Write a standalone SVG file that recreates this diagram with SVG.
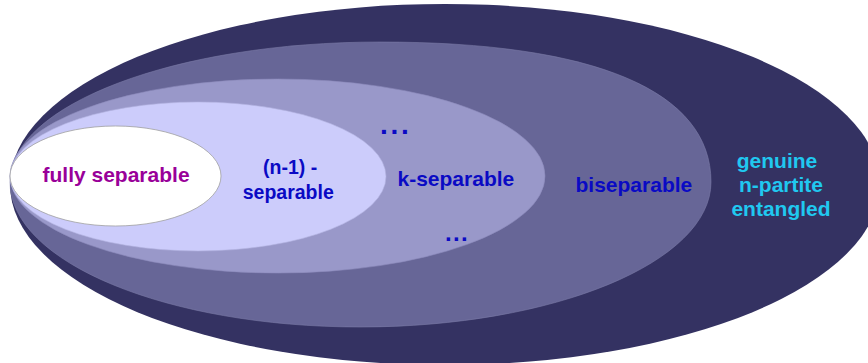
<svg xmlns="http://www.w3.org/2000/svg" width="868" height="363" viewBox="0 0 868 363">
  <style>
    .lbl { font-family: "Liberation Sans", Arial, sans-serif; font-weight: bold; }
    .blue { fill: #0a0ac4; }
    .cyan { fill: #20c8f0; }
    .dots { font-family: "Liberation Sans", Arial, sans-serif; font-weight: bold; fill: #0a0ac4; }
  </style>
  <rect width="868" height="363" fill="#ffffff"/>
  <g id="genuine">
    <ellipse cx="445" cy="184.5" rx="435" ry="180.5" fill="#343262"/>
    <text class="lbl cyan" x="777" y="168" font-size="21" text-anchor="middle">genuine</text>
    <text class="lbl cyan" x="781" y="192" font-size="21" text-anchor="middle">n-partite</text>
    <text class="lbl cyan" x="781" y="216" font-size="21" text-anchor="middle">entangled</text>
  </g>
  <g id="biseparable">
    <path d="M 10 182 C 10 104.7 175.6 42 380 42 C 595.2 42 711 91 711 182 C 711 262.1 553.9 327 360 327 C 166.7 327 10 262.1 10 182 Z" fill="#676697" stroke="#7a7aa6" stroke-width="0.6"/>
    <text class="lbl blue" x="575.5" y="192" font-size="21">biseparable</text>
  </g>
  <g id="k-separable">
    <ellipse cx="277.5" cy="176" rx="267.5" ry="97" fill="#9998c9" stroke="#8d8cbc" stroke-width="0.6"/>
    <text class="lbl blue" x="397.5" y="186" font-size="21">k-separable</text>
    <text class="dots" x="380" y="134" font-size="28" letter-spacing="2.7">...</text>
    <text class="dots" x="445" y="241" font-size="24" letter-spacing="1.3">...</text>
  </g>
  <g id="n-1-separable">
    <ellipse cx="198" cy="176.5" rx="188" ry="74.5" fill="#ccccfb" stroke="#b4b4e0" stroke-width="0.6"/>
    <text class="lbl blue" x="263" y="174.3" font-size="19.5">(n-1) -</text>
    <text class="lbl blue" x="242.7" y="199.3" font-size="19.5">separable</text>
  </g>
  <g id="fully-separable">
    <ellipse cx="115.5" cy="176" rx="105.5" ry="50" fill="#ffffff" stroke="#a0a0a0" stroke-width="0.8"/>
    <text class="lbl" x="42.5" y="182" font-size="21" fill="#990099">fully separable</text>
  </g>
  <g id="connectors"/>
</svg>
